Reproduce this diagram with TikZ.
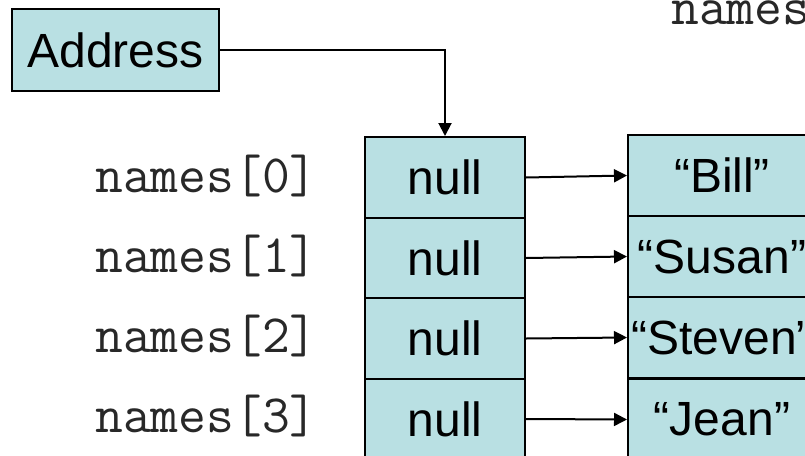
\documentclass[tikz,border=0pt]{standalone}
\usepackage{fontspec}
\setmainfont{Liberation Sans}
\usetikzlibrary{arrows.meta}
\definecolor{cellfill}{RGB}{185,224,227}
\definecolor{labelgray}{RGB}{40,40,40}
\tikzset{
  cell/.style={draw=black, line width=2pt, fill=cellfill, minimum width=160pt,
    minimum height=81pt, inner sep=0pt, font=\fontsize{48}{48}\selectfont},
  strcell/.style={cell, minimum width=188pt},
  idx/.style={anchor=base west, inner sep=0pt, text=labelgray,
    font=\ttfamily\fontsize{54}{54}\selectfont},
  ptr/.style={line width=2pt, -{Triangle[length=13pt,width=13pt]}}
}
\begin{document}
\begin{tikzpicture}[x=1pt,y=-1pt]
  \useasboundingbox (0,0) rectangle (805,455);
  \clip (0,0) rectangle (805,455);

  % reference variable
  \node[cell, minimum width=207pt, minimum height=82pt] (addr) at (115.5,50) {Address};

  % array of references
  \node[cell] (c0) at (445,177.5) {null};
  \node[cell] (c1) at (445,258)   {null};
  \node[cell] (c2) at (445,338.5) {null};
  \node[cell] (c3) at (445,419)   {null};

  % string objects
  \node[strcell] (s0) at (722,175.5) {“Bill”};
  \node[strcell] (s1) at (722,256.5) {“Susan”};
  \node[strcell] (s2) at (722,337.5) {“Steven”};
  \node[strcell] (s3) at (722,419.5) {“Jean”};

  % index labels
  \node[idx] (n0) at (95,192) {names[0]};
  \node[idx] (n1) at (95,272) {names[1]};
  \node[idx] (n2) at (95,352) {names[2]};
  \node[idx] (n3) at (95,432) {names[3]};
  \node[idx] (top) at (671,24) {names};

  % pointers
  \draw[ptr] (addr.east) -| (c0.north);
  \foreach \i in {0,...,3} {
    \draw[ptr] (c\i.east) -- (s\i.west);
  }
\end{tikzpicture}
\end{document}
